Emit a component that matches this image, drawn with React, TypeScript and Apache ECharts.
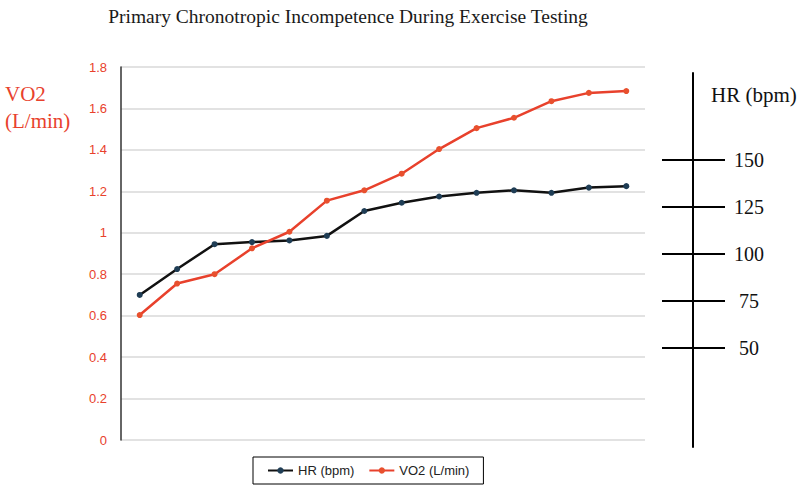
import React, { useEffect, useRef } from "react";
import * as echarts from "echarts";

const stages = ["1", "2", "3", "4", "5", "6", "7", "8", "9", "10", "11", "12", "13", "14"];
const hrValues = [0.70, 0.825, 0.945, 0.955, 0.963, 0.985, 1.105, 1.145, 1.175, 1.193, 1.205, 1.193, 1.218, 1.225];
const vo2Values = [0.603, 0.755, 0.80, 0.925, 1.005, 1.155, 1.205, 1.285, 1.404, 1.505, 1.555, 1.635, 1.675, 1.684];
const hrTickValues = [50, 75, 100, 125, 150];

const RED = "#E8412C";
const SERIF = "'Liberation Serif', 'Times New Roman', serif";
const SANS = "'Liberation Sans', Arial, sans-serif";

export default function App() {
  const ref = useRef<HTMLDivElement>(null);
  useEffect(() => {
    document.body.style.margin = "0";
    if (!ref.current) return;
    const chart = echarts.init(ref.current, undefined, { renderer: "svg" });
    chart.setOption({
      animation: false,
      backgroundColor: "#fff",
      grid: [
        { left: 121, right: 162, top: 67, bottom: 49 },
        { left: 693, width: 1, top: 73, bottom: 42 },
      ],
      xAxis: [
        {
          gridIndex: 0,
          type: "category",
          data: stages,
          boundaryGap: true,
          axisLine: { show: false },
          axisTick: { show: false },
          axisLabel: { show: false },
        },
        {
          gridIndex: 1,
          type: "value",
          show: false,
        },
      ],
      yAxis: [
        {
          gridIndex: 0,
          type: "value",
          min: 0,
          max: 1.8,
          interval: 0.2,
          axisLine: { show: true, lineStyle: { color: "#333", width: 1.5 } },
          axisTick: { show: false },
          axisLabel: { color: RED, fontFamily: SANS, fontSize: 13, margin: 14 },
          splitLine: { show: true, lineStyle: { color: "#d9d9d9", width: 1.5 } },
        },
        {
          gridIndex: 1,
          type: "value",
          min: -2.6,
          max: 196.3,
          position: "left",
          axisLine: { show: true, lineStyle: { color: "#000", width: 2 } },
          axisTick: { show: true, inside: false, length: 31, customValues: hrTickValues, lineStyle: { color: "#000", width: 2 } },
          axisLabel: { show: false },
          splitLine: { show: false },
        },
        {
          gridIndex: 1,
          type: "value",
          min: -2.6,
          max: 196.3,
          position: "left",
          axisLine: { show: false },
          axisTick: { show: true, inside: true, length: 32, customValues: hrTickValues, lineStyle: { color: "#000", width: 2 } },
          axisLabel: {
            show: true,
            inside: true,
            customValues: hrTickValues,
            margin: 56,
            align: "center",
            color: "#111",
            fontFamily: SERIF,
            fontSize: 20,
          },
          splitLine: { show: false },
        },
      ],
      legend: {
        left: 253,
        top: 457,
        orient: "horizontal",
        borderColor: "#000",
        borderWidth: 1,
        padding: [7, 14, 7, 14],
        itemWidth: 25,
        itemHeight: 8,
        itemGap: 14,
        textStyle: { fontFamily: SANS, fontSize: 13, color: "#222" },
        data: ["HR (bpm)", "VO2 (L/min)"],
      },
      graphic: [
        {
          type: "text",
          x: 348,
          y: 16,
          style: {
            text: "Primary Chronotropic Incompetence During Exercise Testing",
            fontFamily: SERIF,
            fontSize: 19.5,
            fill: "#1a1a1a",
            align: "center",
            verticalAlign: "middle",
          },
        },
        {
          type: "text",
          x: 5,
          y: 94,
          style: { text: "VO2", fontFamily: SERIF, fontSize: 21, fill: RED, align: "left", verticalAlign: "middle" },
        },
        {
          type: "text",
          x: 5,
          y: 121,
          style: { text: "(L/min)", fontFamily: SERIF, fontSize: 21, fill: RED, align: "left", verticalAlign: "middle" },
        },
        {
          type: "text",
          x: 711,
          y: 95,
          style: { text: "HR (bpm)", fontFamily: SERIF, fontSize: 21, fill: "#111", align: "left", verticalAlign: "middle" },
        },
      ],
      series: [
        {
          name: "HR (bpm)",
          type: "line",
          xAxisIndex: 0,
          yAxisIndex: 0,
          data: hrValues,
          symbol: "circle",
          symbolSize: 6,
          lineStyle: { color: "#111", width: 2.5 },
          itemStyle: { color: "#1f3d55" },
        },
        {
          name: "VO2 (L/min)",
          type: "line",
          xAxisIndex: 0,
          yAxisIndex: 0,
          data: vo2Values,
          symbol: "circle",
          symbolSize: 6,
          lineStyle: { color: RED, width: 2.5 },
          itemStyle: { color: "#E8502E" },
        },
      ],
    });
    return () => chart.dispose();
  }, []);
  return <div ref={ref} style={{ width: 807, height: 489 }} />;
}
